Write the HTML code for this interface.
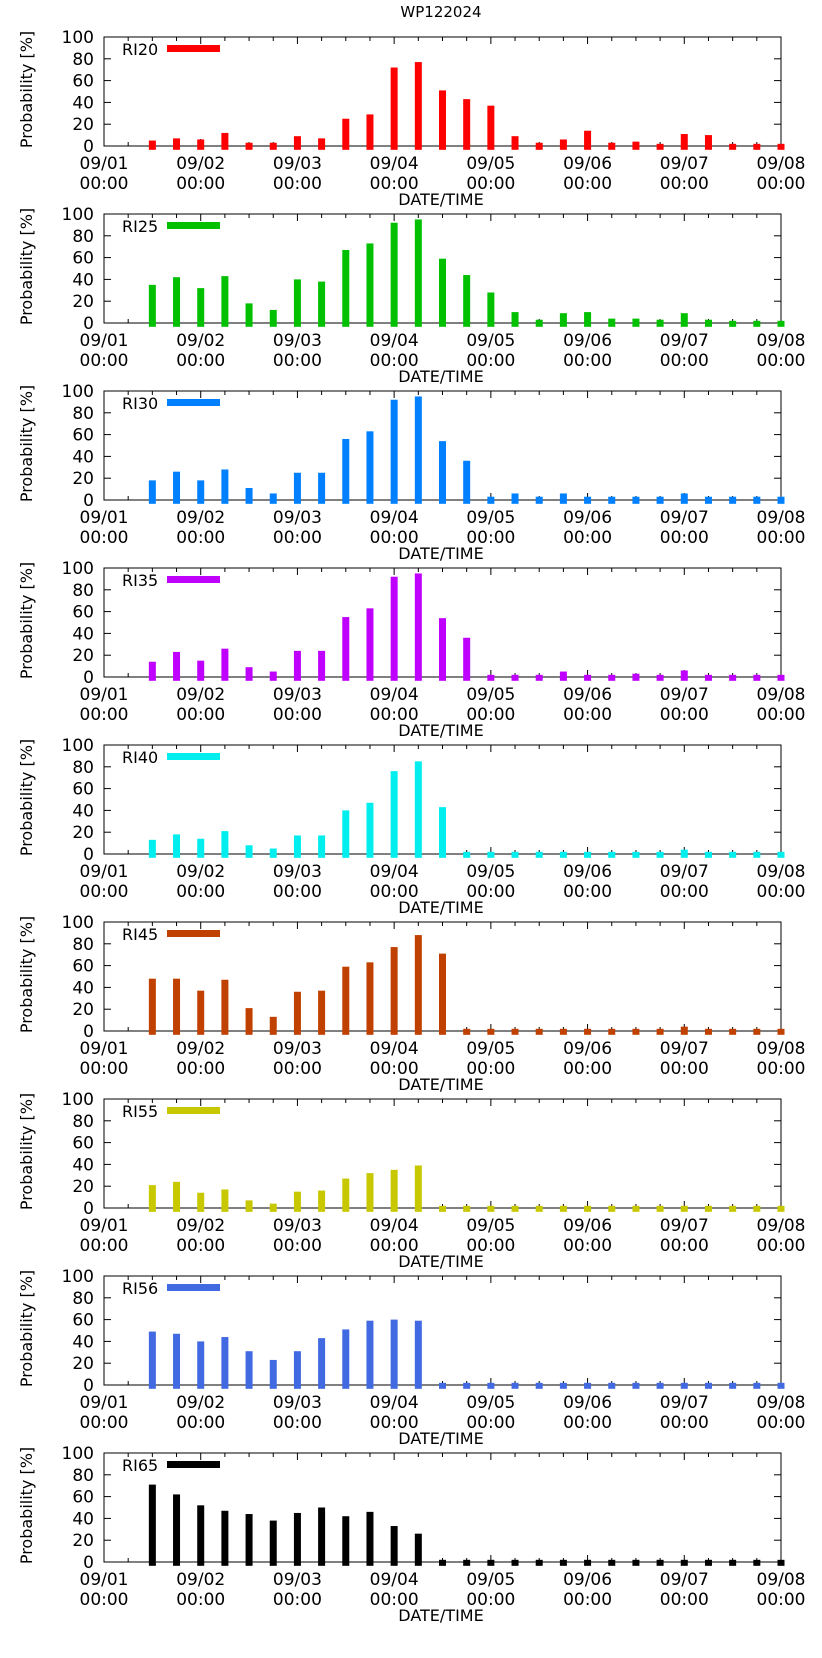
<!DOCTYPE html>
<html><head><meta charset="utf-8"><style>
body{margin:0;background:#fff;}
svg text{font-family:"DejaVu Sans","Liberation Sans",sans-serif;fill:#000;}
</style></head><body>
<svg id="chart" width="822" height="1653" xmlns="http://www.w3.org/2000/svg">
<text x="441" y="17" font-size="15" text-anchor="middle">WP122024</text>
</svg>
<script>
const seriesNames = ["RI20","RI25","RI30","RI35","RI40","RI45","RI55","RI56","RI65"];
const seriesColors = ["#ff0000","#00c000","#0080ff","#c000ff","#00eeee","#c04000","#c8c800","#4169e1","#000000"];
const ri20 = [5,7,6,12,3,3,9,7,25,29,72,77,51,43,37,9,3,6,14,3,4,2,11,10,2,2,2];
const ri25 = [35,42,32,43,18,12,40,38,67,73,92,95,59,44,28,10,3,9,10,4,4,3,9,3,2,2,2];
const ri30 = [18,26,18,28,11,6,25,25,56,63,92,95,54,36,3,6,3,6,3,3,3,3,6,3,3,3,3];
const ri35 = [14,23,15,26,9,5,24,24,55,63,92,95,54,36,2,2,2,5,2,2,3,2,6,2,2,2,2];
const ri40 = [13,18,14,21,8,5,17,17,40,47,76,85,43,2,2,2,2,2,2,2,2,2,4,2,2,2,2];
const ri45 = [48,48,37,47,21,13,36,37,59,63,77,88,71,2,2,2,2,2,2,2,2,2,4,2,2,2,2];
const ri55 = [21,24,14,17,7,4,15,16,27,32,35,39,2,2,2,2,2,2,2,2,2,2,2,2,2,2,2];
const ri56 = [49,47,40,44,31,23,31,43,51,59,60,59,2,2,2,2,2,2,2,2,2,2,2,2,2,2,2];
const ri65 = [71,62,52,47,44,38,45,50,42,46,33,26,2,2,2,2,2,2,2,2,2,2,2,2,2,2,2];
const seriesValues = [ri20,ri25,ri30,ri35,ri40,ri45,ri55,ri56,ri65];
const barTimesDays = [0.5,0.75,1,1.25,1.5,1.75,2,2.25,2.5,2.75,3,3.25,3.5,3.75,4,4.25,4.5,4.75,5,5.25,5.5,5.75,6,6.25,6.5,6.75,7];
const xTickLabels = ["09/01","09/02","09/03","09/04","09/05","09/06","09/07","09/08"];
const yTicks = [0,20,40,60,80,100];

const svg = document.getElementById('chart');
const NS = "http://www.w3.org/2000/svg";
const L=104, R=781, PH=109, TOP0=37, STEP=177;
const xs = d => L + (R-L)*d/7;
function mk(tag, attrs, parent){const e=document.createElementNS(NS,tag);for(const k in attrs)e.setAttribute(k,attrs[k]);(parent||svg).appendChild(e);return e;}

seriesNames.forEach((name,p)=>{
  const top = TOP0 + STEP*p, bot = top+PH;
  const ys = v => bot - PH*v/100;
  const g = mk('g',{});
  
  
  // frame
  const f = mk('rect',{x:L,y:top,width:R-L,height:PH,fill:'none',stroke:'#000','stroke-width':1},g);
  
  
  // x ticks
  for(let k=0;k<=28;k++){
    const x=xs(k/4), len = k%4===0?7:4;
    mk('line',{x1:x,x2:x,y1:bot,y2:bot-len,stroke:'#000'},g);
    mk('line',{x1:x,x2:x,y1:top,y2:top+len,stroke:'#000'},g);
  }
  xTickLabels.forEach((t,k)=>{
    const x=xs(k);
    const a=mk('text',{x:x,y:bot+23,'font-size':17,'text-anchor':'middle'},g); a.textContent=t;
    
    
    const b=mk('text',{x:x,y:bot+43,'font-size':17,'text-anchor':'middle'},g); b.textContent='00:00';
    
    
  });
  yTicks.forEach(v=>{
    const y=ys(v);
    mk('line',{x1:L,x2:L+7,y1:y,y2:y,stroke:'#000'},g);
    mk('line',{x1:R,x2:R-7,y1:y,y2:y,stroke:'#000'},g);
    const t=mk('text',{x:L-10,y:y+6,'font-size':17,'text-anchor':'end'},g); t.textContent=v;
    
    
  });
  // bars (drawn over axis/ticks)
  seriesValues[p].forEach((v,i)=>{
    const x = xs(barTimesDays[i]);
    const r = mk('rect',{x:x-3.5,y:ys(v),width:7,height:ys(-3.5)-ys(v),fill:seriesColors[p]},g);
    
    
  });
  const yl=mk('text',{x:0,y:0,'font-size':16,'text-anchor':'middle',transform:`translate(32,${top+PH/2-2}) rotate(-90)`},g);
  yl.textContent='Probability [%]';
  
  
  const xl=mk('text',{x:441,y:bot+59,'font-size':16,'text-anchor':'middle'},g);
  xl.textContent='DATE/TIME';
  
  
  // legend
  const lt=mk('text',{x:122,y:top+18,'font-size':16},g); lt.textContent=name;
  
  
  const ls=mk('rect',{x:167,y:top+8,width:53,height:7,fill:seriesColors[p]},g);
  
  
});
</script>
</body></html>
